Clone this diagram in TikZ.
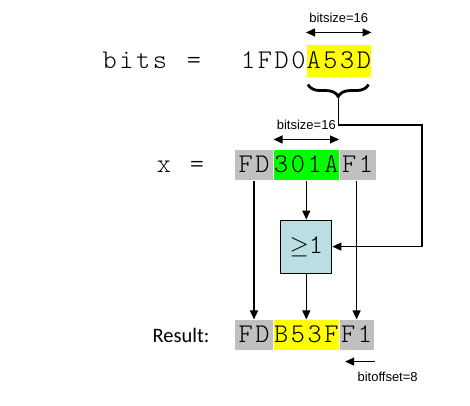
\documentclass[tikz,border=0pt]{standalone}
\usepackage{fontspec}
\usepackage{tikz}
\usetikzlibrary{positioning, arrows.meta, decorations.pathreplacing}
\newfontfamily\hexfont{lmmonolt10-regular.otf}[LetterSpace=9.5]
\newfontfamily\tagfont{Liberation Sans}
\newfontfamily\capfont{Carlito}
\definecolor{cellgrey}{RGB}{192, 192, 192}
\definecolor{cellgreen}{RGB}{0, 255, 0}
\definecolor{cellyellow}{RGB}{255, 255, 0}
\definecolor{gatefill}{RGB}{185, 223, 226}
\newcommand{\hex}{\hexfont\fontsize{27}{27}\selectfont}
\newcommand{\tagtext}{\tagfont\fontsize{13}{13}\selectfont}

\begin{document}
\begin{tikzpicture}[x=1pt, y=-1pt, line width=1.1pt,
  word/.style={font=\hex, inner sep=0pt},
  cell/.style={font=\hex, inner sep=0pt, text height=22pt, text depth=8pt},
  wire/.style={-{Triangle[length=9pt, width=8pt]}},
  span/.style={{Triangle[length=9pt, width=8pt]}-{Triangle[length=9pt, width=8pt]}},
  tag/.style={font=\tagtext, inner sep=0pt}]

  \useasboundingbox (0, 0) rectangle (470, 405);

  % source word
  \node[word, anchor=base west] (bitsname) at (102, 68) {bits};
  \node[word, anchor=base] (bitseq) at (194, 68) {=};
  \node[cell, fill=cellyellow, text height=23pt, text depth=9pt, anchor=base west]
    (bitslow) at (306, 68) {A53D};
  \node[word, anchor=base east] (bitshigh) at (bitslow.base west) {1FD0};

  \draw[span] ([yshift=12pt]bitslow.north west) -- ([yshift=12pt]bitslow.north east)
    node[tag, midway, above=9pt] (topsize) {bitsize=16};

  \draw[line width=2.8pt, decorate, decoration={brace, amplitude=12pt}]
    ([xshift=-3pt, yshift=-7pt]bitslow.south east) -- ([xshift=2pt, yshift=-7pt]bitslow.south west);

  % target word
  \node[word, anchor=base] (xname) at (164, 172) {x};
  \node[word, anchor=base] (xeq) at (197, 172) {=};
  \node[cell, fill=cellgrey, minimum width=38pt, anchor=base] (xa) at (254, 172) {FD};
  \node[cell, fill=cellgreen, anchor=base west] (xb) at (xa.base east) {301A};
  \node[cell, fill=cellgrey, minimum width=36pt, anchor=base west] (xc) at (xb.base east) {F1};

  \draw[span] ([yshift=10pt]xb.north west) -- ([yshift=10pt]xb.north east)
    node[tag, midway, above=9pt] (xsize) {bitsize=16};

  \node[draw, fill=gatefill, minimum width=51pt, minimum height=53pt, inner sep=0pt,
    font=\hex, below=39pt of xb] (gate) {$\geq$1};

  % result word
  \node[font=\capfont\fontsize{20.5}{20.5}\selectfont, inner sep=0pt, anchor=base west]
    (reslabel) at (152, 342) {Result:};
  \node[cell, fill=cellgrey, minimum width=38pt, anchor=base] (ra) at (254, 342) {FD};
  \node[cell, fill=cellyellow, anchor=base west] (rb) at (ra.base east) {B53F};
  \node[cell, fill=cellgrey, minimum width=34pt, anchor=base west] (rc) at (rb.base east) {F1};

  \draw[wire] (xa) -- (ra);
  \draw[wire] (xb) -- (gate);
  \draw[wire] (gate) -- (rb);
  \draw[wire] (xc.south -| rc) -- (rc);

  \coordinate (braceend) at ([yshift=-21pt]bitslow.south);
  \coordinate (bend) at (422, 125);
  \draw[wire] (braceend) |- (bend) |- (gate.east);

  \coordinate (offstart) at ([xshift=1pt, yshift=-11pt]rc.south east);
  \coordinate (offend) at ([xshift=-30pt]offstart);
  \draw[wire] (offstart) -- (offend);
  \node[tag, anchor=north west] (offtag) at (357, 372) {bitoffset=8};

\end{tikzpicture}
\end{document}
